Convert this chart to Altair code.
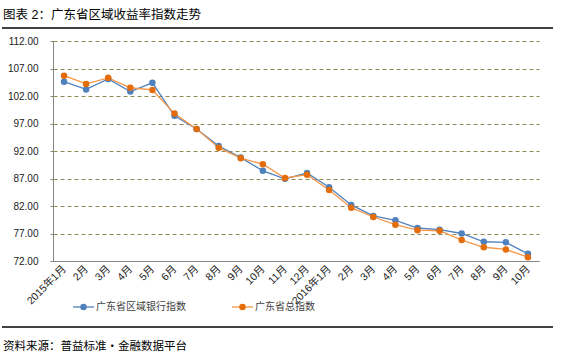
import altair as alt
import pandas as pd

months = ["2015年1月", "2月", "3月", "4月", "5月", "6月", "7月", "8月", "9月", "10月", "11月", "12月",
          "2016年1月", "2月 ", "3月 ", "4月 ", "5月 ", "6月 ", "7月 ", "8月 ", "9月 ", "10月 "]
bank_index = [104.6, 103.2, 105.1, 102.8, 104.4, 98.4, 96.0, 92.9, 90.8, 88.4, 86.95,
              88.0, 85.4, 82.2, 80.2, 79.4, 78.0, 77.7, 77.0, 75.5, 75.4, 73.3]
total_index = [105.7, 104.2, 105.3, 103.5, 103.1, 98.8, 96.0, 92.6, 90.7, 89.6, 87.1,
               87.7, 84.9, 81.7, 80.0, 78.6, 77.6, 77.5, 75.8, 74.5, 74.1, 72.7]
series_names = ["广东省区域银行指数", "广东省总指数"]
line_colors = ["#4F81BD", "#F79646"]
point_colors = ["#4F81BD", "#E46C0A"]
y_ticks = [72, 77, 82, 87, 92, 97, 102, 107, 112]

title_text = "图表 2：广东省区域收益率指数走势"
source_text = "资料来源：普益标准・金融数据平台"

rows = []
for i, m in enumerate(months):
    rows.append({"month": m, "idx": i, "series": series_names[0], "value": bank_index[i]})
    rows.append({"month": m, "idx": i, "series": series_names[1], "value": total_index[i]})
df = pd.DataFrame(rows)

FONT_NUM = "Liberation Sans"
FONT_CJK = "Liberation Sans, Noto Sans CJK SC"

x_scale = alt.Scale(type="point", padding=0.5)
y_scale = alt.Scale(domain=[72, 112], nice=False, zero=False)

x_axis = alt.Axis(title=None, labelAngle=-45, labelAlign="right", labelBaseline="middle",
                  ticks=False, labelPadding=6, labelFont=FONT_CJK, labelFontSize=10.5,
                  labelColor="#222222", domainColor="#868686", grid=False,
                  labelOverlap=False, labelExpr="trim(datum.label)")
y_axis = alt.Axis(title=None, values=y_ticks, format=".2f", labelFont=FONT_NUM,
                  labelFontSize=10, labelColor="#222222", tickSize=3, tickColor="#868686",
                  domainColor="#868686", labelPadding=12, grid=True, gridColor="#938953",
                  gridDash=[4, 3], gridWidth=1, labelOverlap=False, labelBound=False,
                  labelFlush=False)

base = alt.Chart(df)
lines = base.mark_line(strokeWidth=1.3).encode(
    x=alt.X("month:N", sort=months, scale=x_scale, axis=x_axis),
    y=alt.Y("value:Q", scale=y_scale, axis=y_axis),
    color=alt.Color("series:N", scale=alt.Scale(domain=series_names, range=line_colors), legend=None),
    detail="series:N")
points = base.mark_point(size=42, opacity=1, filled=True, shape="circle").encode(
    x=alt.X("month:N", sort=months, scale=x_scale, axis=x_axis),
    y=alt.Y("value:Q", scale=y_scale, axis=y_axis),
    fill=alt.Fill("series:N", scale=alt.Scale(domain=series_names, range=point_colors), legend=None))

# legend (manual)
leg_layers = []
leg_x = [20, 179]
for i, name in enumerate(series_names):
    d = alt.Chart(pd.DataFrame({"s": [name]}))
    leg_layers.append(d.mark_rule(color=line_colors[i], strokeWidth=1.3).encode(
        x=alt.value(leg_x[i]), x2=alt.value(leg_x[i] + 21), y=alt.value(266)))
    leg_layers.append(d.mark_circle(size=42, opacity=1, color=point_colors[i]).encode(
        x=alt.value(leg_x[i] + 10.5), y=alt.value(266)))
    leg_layers.append(d.mark_text(align="left", baseline="middle", font=FONT_CJK, fontSize=10,
                                  color="#404040").encode(
        x=alt.value(leg_x[i] + 23), y=alt.value(266), text="s:N"))

deco = alt.Chart(pd.DataFrame({"t": [title_text], "f": [source_text]}))
title = deco.mark_text(align="left", baseline="alphabetic", font=FONT_CJK, fontSize=12.5,
                       color="#000000").encode(x=alt.value(-50), y=alt.value(-22), text="t:N")
footer = deco.mark_text(align="left", baseline="alphabetic", font=FONT_CJK, fontSize=11.5,
                        color="#000000").encode(x=alt.value(-50), y=alt.value(309), text="f:N")
top_line = deco.mark_rule(color="#000000", strokeWidth=1.5).encode(
    x=alt.value(-51), x2=alt.value(500), y=alt.value(-13))
bottom_line = deco.mark_rule(color="#000000", strokeWidth=1.5).encode(
    x=alt.value(-51), x2=alt.value(500), y=alt.value(286))

chart = alt.layer(lines, points, *leg_layers, title, footer, top_line, bottom_line).properties(
    width=486, height=220,
    autosize=alt.AutoSizeParams(type="none"),
    padding={"left": 53, "top": 41, "right": 23, "bottom": 96},
    background="white",
).configure_view(stroke=None)

chart.save("out.html", embed_options={"renderer": "svg", "actions": False})
